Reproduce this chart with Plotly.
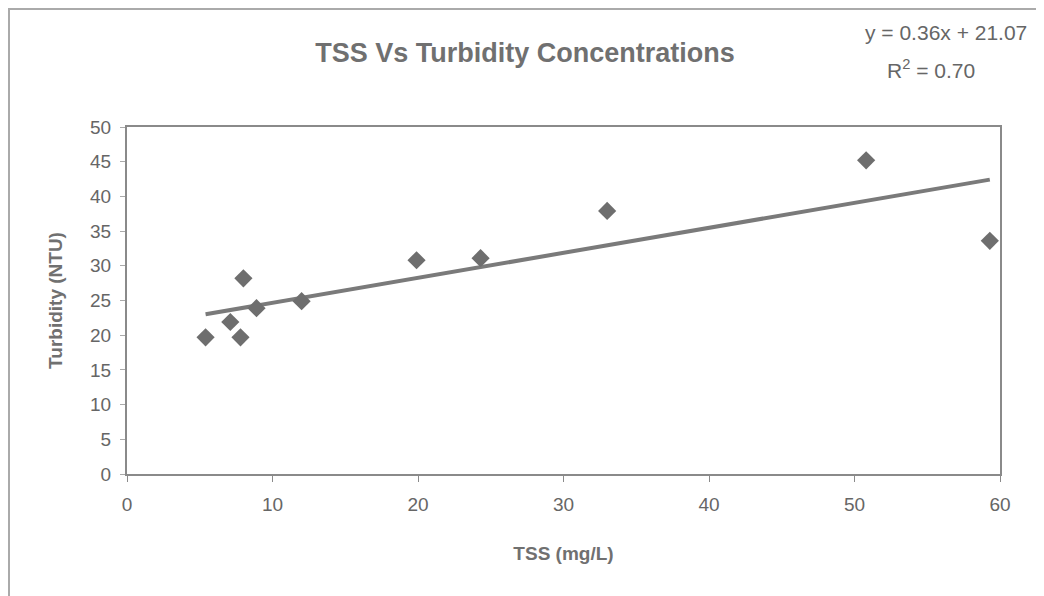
import plotly.graph_objects as go

tss = [5.4, 7.1, 7.8, 8.0, 8.9, 12.0, 19.9, 24.3, 33.0, 50.8, 59.3]
turbidity = [19.7, 21.9, 19.7, 28.2, 23.9, 24.9, 30.8, 31.1, 37.9, 45.2, 33.6]
slope = 0.36
intercept = 21.07
r2 = 0.70

title = "TSS Vs Turbidity Concentrations"
x_title = "TSS (mg/L)"
y_title = "Turbidity (NTU)"

grey = "#6e6e6e"
text_grey = "#666666"
font = "Liberation Sans, Arial, sans-serif"

# page has an 8px body margin: figure is drawn from page (8, 8)
OFF = 8
W, H = 1044 - OFF, 596 - OFF
L, R, T, B = 127, 1000, 127, 474   # plot area in page pixels
PW, PH = R - L, B - T


def px(x):
    return (x - L) / PW


def py(y):
    return (B - y) / PH


x_fit = [min(tss), max(tss)]
y_fit = [slope * v + intercept for v in x_fit]

fig = go.Figure()
fig.add_trace(go.Scatter(x=x_fit, y=y_fit, mode="lines",
                         line=dict(color="#7a7a7a", width=4), showlegend=False,
                         hoverinfo="skip"))
fig.add_trace(go.Scatter(x=tss, y=turbidity, mode="markers",
                         marker=dict(symbol="diamond", size=14, color=grey),
                         showlegend=False))

fig.update_layout(
    width=W, height=H,
    margin=dict(l=L - OFF, r=W - (R - OFF), t=T - OFF, b=H - (B - OFF)),
    paper_bgcolor="white", plot_bgcolor="white",
    font=dict(family=font, color=text_grey, size=19),
    title=dict(text="<b>" + title + "</b>", x=(525 - OFF) / W, xanchor="center",
               y=1 - (53 - OFF) / H, yanchor="middle",
               font=dict(size=27, color="#707070", family=font)),
    xaxis=dict(range=[0, 60], dtick=10, showgrid=False, zeroline=False,
               showline=True, linecolor="#8a8a8a", linewidth=2, mirror=True,
               ticks="outside", ticklen=6, tickcolor="#8a8a8a",
               ticklabelstandoff=6,
               tickfont=dict(size=19, color=text_grey),
               title=dict(text="<b>" + x_title + "</b>", standoff=33,
                          font=dict(size=19, color="#707070"))),
    yaxis=dict(range=[0, 50], dtick=5, showgrid=False, zeroline=False,
               showline=True, linecolor="#8a8a8a", linewidth=2, mirror=True,
               ticks="outside", ticklen=5, tickcolor="#aaaaaa",
               ticklabelstandoff=5,
               tickfont=dict(size=19, color=text_grey),
               title=dict(text="<b>" + y_title + "</b>", standoff=22,
                          font=dict(size=19, color="#707070"))),
)

fig.add_annotation(text="y = %.2fx + %.2f" % (slope, intercept),
                   xref="paper", yref="paper",
                   x=px(946), y=py(33),
                   xanchor="center", yanchor="middle", showarrow=False,
                   font=dict(size=21, color=text_grey, family=font))
fig.add_annotation(text="R<sup>2</sup> = %.2f" % r2,
                   xref="paper", yref="paper",
                   x=px(931), y=py(69),
                   xanchor="center", yanchor="middle", showarrow=False,
                   font=dict(size=21, color=text_grey, family=font))

# outer chart frame
fig.add_shape(type="rect", xref="paper", yref="paper",
              x0=px(9), x1=px(1040),
              y0=py(640), y1=py(9),
              line=dict(color="#aaaaaa", width=2), layer="below")

fig.write_html("out.html")
